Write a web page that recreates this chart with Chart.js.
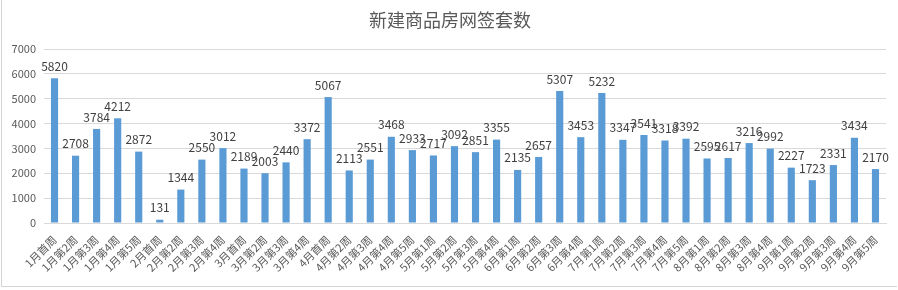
<!DOCTYPE html>
<html>
<head>
<meta charset="utf-8">
<script src="https://cdn.jsdelivr.net/npm/chart.js@4/dist/chart.umd.min.js"></script>
<style>
  html, body { margin: 0; padding: 0; background: #fff; }
  #wrap { position: relative; width: 898px; height: 290px; }
  #frame { position: absolute; left: 1px; top: 0; width: 895px; height: 286px; border-left: 1px solid #d4d4d4; border-bottom: 1px solid #d4d4d4; pointer-events: none; }
</style>
</head>
<body>
<div id="wrap">
  <canvas id="salesChart" width="898" height="290"></canvas>
  <div id="frame"></div>
</div>
<script>
const TITLE = "新建商品房网签套数";

const weeks = [
  "1月首周", "1月第2周", "1月第3周", "1月第4周", "1月第5周",
  "2月首周", "2月第2周", "2月第3周", "2月第4周",
  "3月首周", "3月第2周", "3月第3周", "3月第4周",
  "4月首周", "4月第2周", "4月第3周", "4月第4周", "4月第5周",
  "5月第1周", "5月第2周", "5月第3周", "5月第4周",
  "6月第1周", "6月第2周", "6月第3周", "6月第4周",
  "7月第1周", "7月第2周", "7月第3周", "7月第4周", "7月第5周",
  "8月第1周", "8月第2周", "8月第3周", "8月第4周",
  "9月第1周", "9月第2周", "9月第3周", "9月第4周", "9月第5周"
];

const signedUnits = [
  5820, 2708, 3784, 4212, 2872,
  131, 1344, 2550, 3012,
  2189, 2003, 2440, 3372,
  5067, 2113, 2551, 3468, 2933,
  2717, 3092, 2851, 3355,
  2135, 2657, 5307, 3453,
  5232, 3347, 3541, 3318, 3392,
  2595, 2617, 3216, 2992,
  2227, 1723, 2331, 3434, 2170
];

const yTicks = [0, 1000, 2000, 3000, 4000, 5000, 6000, 7000];

const FONT = "'Noto Sans CJK SC', 'Noto Sans', sans-serif";

// value labels over each bar
const barLabels = {
  id: "barLabels",
  afterDatasetsDraw(chart) {
    const ctx = chart.ctx;
    const meta = chart.getDatasetMeta(0);
    ctx.save();
    ctx.font = "12px " + FONT;
    ctx.fillStyle = "#404040";
    ctx.textAlign = "center";
    ctx.textBaseline = "bottom";
    meta.data.forEach((bar, i) => {
      ctx.fillText(String(signedUnits[i]), bar.x, bar.y - 6);
    });
    ctx.restore();
  }
};

const chartTitle = {
  id: "chartTitle",
  afterDraw(chart) {
    const ctx = chart.ctx;
    ctx.save();
    ctx.font = "18px " + FONT;
    ctx.fillStyle = "#595959";
    ctx.textAlign = "center";
    ctx.textBaseline = "middle";
    ctx.fillText(TITLE, 450, 20);
    ctx.restore();
  }
};

const ctx = document.getElementById("salesChart").getContext("2d");

new Chart(ctx, {
  type: "bar",
  data: {
    labels: weeks,
    datasets: [{
      label: TITLE,
      data: signedUnits,
      backgroundColor: "#5b9bd5",
      categoryPercentage: 1,
      barPercentage: 0.34
    }]
  },
  options: {
    responsive: false,
    animation: false,
    layout: { padding: { top: 49, right: 12, left: 4, bottom: 6 } },
    plugins: {
      legend: { display: false },
      tooltip: { enabled: false }
    },
    scales: {
      y: {
        min: 0,
        max: 7000,
        afterBuildTicks(scale) {
          scale.ticks = yTicks.map(v => ({ value: v }));
        },
        afterFit(scale) { scale.width = 40; },
        border: { display: false },
        grid: { color: "#d9d9d9", drawTicks: false },
        ticks: {
          color: "#595959",
          font: { family: FONT, size: 11 },
          padding: 8,
          callback: v => String(v)
        }
      },
      x: {
        afterFit(scale) { scale.height = 61; },
        border: { display: true, color: "#d9d9d9" },
        grid: { display: false },
        ticks: {
          color: "#595959",
          font: { family: FONT, size: 11 },
          autoSkip: false,
          minRotation: 45,
          maxRotation: 45,
          padding: 2
        }
      }
    }
  },
  plugins: [barLabels, chartTitle]
});
</script>
</body>
</html>
